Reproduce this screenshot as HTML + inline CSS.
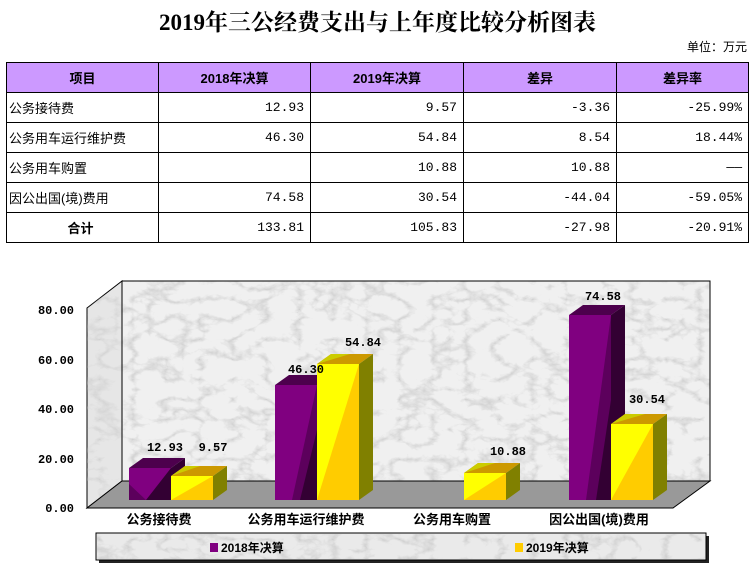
<!DOCTYPE html>
<html><head><meta charset="utf-8">
<style>
body{margin:0;width:755px;height:566px;background:#fff;position:relative;overflow:hidden;font-family:"Liberation Sans","Noto Sans CJK SC",sans-serif;}
.title{position:absolute;left:0;width:755px;top:4px;text-align:center;font-family:"Liberation Serif","Noto Serif CJK SC",serif;font-weight:bold;font-size:23px;}
.unit{position:absolute;right:8px;top:38px;font-size:12px;}
table{position:absolute;left:6px;top:62px;border-collapse:collapse;}
td{border:1px solid #000;height:29px;padding:0 6px;font-size:13px;font-family:"Liberation Mono","Noto Sans CJK SC",monospace;}
tr.h td{background:#cc99ff;text-align:center;font-weight:bold;font-family:"Liberation Sans","Noto Sans CJK SC",sans-serif;}
td.l{text-align:left;padding-left:2px;font-family:"Liberation Sans","Noto Sans CJK SC",sans-serif;}
td.r{text-align:right;}
</style></head><body>
<div class="title">2019年三公经费支出与上年度比较分析图表</div>
<div class="unit">单位：万元</div>
<table>
<colgroup><col style="width:152px"><col style="width:152px"><col style="width:153px"><col style="width:153px"><col style="width:132px"></colgroup>
<tr class="h"><td>项目</td><td>2018年决算</td><td>2019年决算</td><td>差异</td><td>差异率</td></tr>
<tr><td class="l">公务接待费</td><td class="r">12.93</td><td class="r">9.57</td><td class="r">-3.36</td><td class="r">-25.99%</td></tr>
<tr><td class="l">公务用车运行维护费</td><td class="r">46.30</td><td class="r">54.84</td><td class="r">8.54</td><td class="r">18.44%</td></tr>
<tr><td class="l">公务用车购置</td><td class="r"></td><td class="r">10.88</td><td class="r">10.88</td><td class="r">——</td></tr>
<tr><td class="l">因公出国(境)费用</td><td class="r">74.58</td><td class="r">30.54</td><td class="r">-44.04</td><td class="r">-59.05%</td></tr>
<tr><td class="l" style="text-align:center;font-weight:bold">合计</td><td class="r">133.81</td><td class="r">105.83</td><td class="r">-27.98</td><td class="r">-20.91%</td></tr>
</table>
<svg style="position:absolute;left:0;top:0" width="755" height="566">
<defs>
<filter id="m" x="0" y="0" width="100%" height="100%">
<feTurbulence type="turbulence" baseFrequency="0.03 0.05" numOctaves="4" seed="3"/>
<feColorMatrix type="matrix" values="0 0 0 0 0.55  0 0 0 0 0.55  0 0 0 0 0.55  -3 0 0 0 0.9"/>
</filter>
</defs>
<rect x="122" y="281" width="588" height="200" fill="#f0f0f0" stroke="#000"/>
<rect x="122" y="281" width="588" height="200" fill="#aaa" filter="url(#m)" opacity="0.8"/>
<polygon points="87,308 122,281 122,481 87,508" fill="#e6e6e6" stroke="#000"/>
<rect x="87" y="281" width="35" height="227" filter="url(#m)" opacity="0.6" clip-path="polygon(0 27px,35px 0,35px 200px,0 227px)"/>
<polygon points="87,508 122,481 710,481 673,508" fill="#999" stroke="#000"/>
<line x1="122" y1="281" x2="710" y2="281" stroke="#000"/>
<line x1="710" y1="281" x2="710" y2="481" stroke="#000"/>
<line x1="122" y1="281" x2="122" y2="481" stroke="#000"/>
<g font-family="Liberation Mono,monospace" font-weight="bold" font-size="12" text-anchor="end">
<text x="74" y="314">80.00</text><text x="74" y="364">60.00</text><text x="74" y="413">40.00</text><text x="74" y="463">20.00</text><text x="74" y="512">0.00</text>
</g>
<g>
<rect x="129" y="468" width="42" height="32" fill="#800080"/><polygon points="146,500 171,468 171,500" fill="#330033"/><polygon points="146,500 129,484 129,500" fill="#5c005c"/>
<polygon points="129,468 143,458 185,458 171,468" fill="#4d004d"/><polygon points="171,468 185,458 185,490 171,500" fill="#330033"/>
</g>
<g>
<rect x="171" y="476" width="42" height="24" fill="#ffff00"/><polygon points="171,500 213,476 213,500" fill="#ffcc00"/>
<polygon points="171,476 185,466 227,466 213,476" fill="#cc9900"/><polygon points="171,476 185,466 200,466" fill="#cccc00"/><polygon points="213,476 227,466 227,490 213,500" fill="#808000"/>
</g>
<g>
<rect x="275" y="385" width="42" height="115" fill="#800080"/><polygon points="292,500 317,385 317,500" fill="#5c005c"/><polygon points="300,500 317,430 317,500" fill="#330033"/>
<polygon points="275,385 289,375 331,375 317,385" fill="#4d004d"/>
</g>
<g>
<rect x="317" y="364" width="42" height="136" fill="#ffff00"/><polygon points="317,500 359,364 359,500" fill="#ffcc00"/>
<polygon points="317,364 331,354 373,354 359,364" fill="#cc9900"/><polygon points="317,364 331,354 350,354" fill="#cccc00"/><polygon points="359,364 373,354 373,490 359,500" fill="#808000"/>
</g>
<g>
<rect x="464" y="473" width="42" height="27" fill="#ffff00"/><polygon points="464,500 506,473 506,500" fill="#ffcc00"/>
<polygon points="464,473 478,463 520,463 506,473" fill="#cc9900"/><polygon points="464,473 478,463 495,463" fill="#cccc00"/><polygon points="506,473 520,463 520,490 506,500" fill="#808000"/>
</g>
<g>
<rect x="569" y="315" width="42" height="185" fill="#800080"/><polygon points="586,500 611,315 611,500" fill="#5c005c"/><polygon points="596,500 611,400 611,500" fill="#330033"/>
<polygon points="569,315 583,305 625,305 611,315" fill="#4d004d"/><polygon points="611,315 625,305 625,490 611,500" fill="#330033"/>
</g>
<g>
<rect x="611" y="424" width="42" height="76" fill="#ffff00"/><polygon points="611,500 653,424 653,500" fill="#ffcc00"/>
<polygon points="611,424 625,414 667,414 653,424" fill="#cc9900"/><polygon points="611,424 625,414 645,414" fill="#cccc00"/><polygon points="653,424 667,414 667,490 653,500" fill="#808000"/>
</g>
<g font-family="Liberation Mono,monospace" font-weight="bold" font-size="12" text-anchor="middle">
<text x="165" y="451">12.93</text><text x="213" y="451">9.57</text>
<text x="306" y="373">46.30</text><text x="363" y="346">54.84</text>
<text x="508" y="455">10.88</text>
<text x="603" y="300">74.58</text><text x="647" y="403">30.54</text>
</g>
<g font-family="Liberation Sans,Noto Sans CJK SC,sans-serif" font-weight="bold" font-size="13" text-anchor="middle">
<text x="159" y="524">公务接待费</text><text x="306" y="524">公务用车运行维护费</text><text x="452" y="524">公务用车购置</text><text x="599" y="524">因公出国(境)费用</text>
</g>
<rect x="99" y="536" width="610" height="27" fill="#222"/>
<rect x="96" y="533" width="610" height="27" fill="#eaeaea" stroke="#000"/>
<rect x="97" y="534" width="608" height="25" fill="#aaa" filter="url(#m)" opacity="0.8"/>
<rect x="210" y="543" width="8" height="9" fill="#800080"/>
<rect x="515" y="543" width="8" height="9" fill="#ffcc00"/>
<g font-family="Liberation Sans,Noto Sans CJK SC,sans-serif" font-weight="bold" font-size="12">
<text x="221" y="552">2018年决算</text><text x="526" y="552">2019年决算</text>
</g>
</svg>
</body></html>
